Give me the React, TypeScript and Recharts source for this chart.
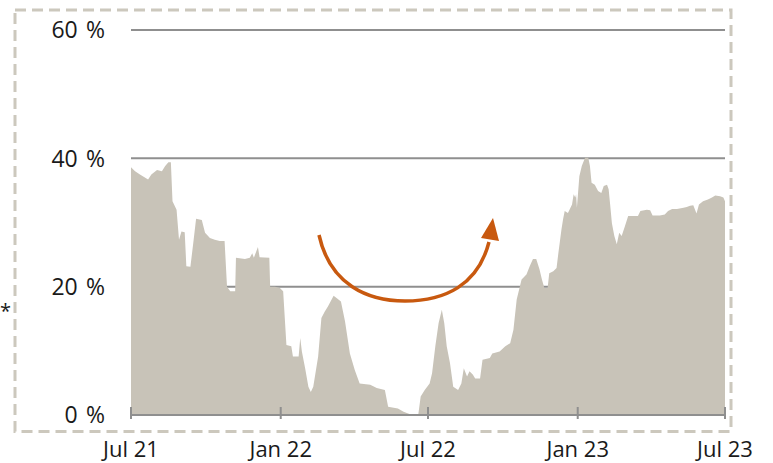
import React from "react";
import { AreaChart, Area, XAxis, YAxis, CartesianGrid } from "recharts";

// Days since 1 Jul 2021
const days = [0,5,11,21,25,32,38,42,46,49,51,56,59,62,66,68,73,77,80,87,91,97,103,109,115,118,122,128,129,140,146,149,151,156,158,170,171,177,183,187,191,197,199,206,208,210,214,218,221,224,230,234,238,242,249,253,258,263,269,275,281,294,302,312,316,328,335,343,353,356,361,367,370,374,378,382,385,388,392,396,402,406,409,413,416,420,423,429,432,441,444,453,460,466,470,474,480,486,490,494,498,502,505,508,512,514,519,523,525,529,531,533,537,542,544,546,547,548,551,554,558,562,564,566,570,574,578,581,585,587,589,591,594,597,600,603,607,611,617,623,626,634,638,641,650,656,660,665,671,679,683,687,691,695,698,703,709,714,718,724,728,730];

const shares = [38.6,38.0,37.5,36.7,37.5,38.2,38.0,38.8,39.4,39.4,33.3,32.0,27.3,28.6,28.5,23.2,23.1,27.3,30.6,30.4,28.4,27.6,27.3,27.1,27.1,20.0,19.3,19.3,24.5,24.3,24.5,25.2,24.5,26.2,24.6,24.5,20.0,20.0,19.8,19.3,10.9,10.7,9.1,9.1,12.0,9.9,7.3,4.4,3.6,4.4,9.1,15.1,16.1,16.9,18.6,18.2,17.7,14.6,9.6,7.0,4.9,4.7,4.2,3.9,1.3,1.0,0.5,0.1,0.0,2.9,3.9,4.9,6.5,10.7,14.3,16.4,14.3,10.7,8.1,4.4,3.9,4.9,7.3,6.0,6.8,6.3,5.7,5.7,8.6,8.9,9.6,9.9,10.7,11.2,13.3,18.0,21.1,21.9,23.2,24.3,24.3,22.7,21.1,19.8,19.8,22.1,22.4,22.9,25.0,28.9,30.5,31.8,31.5,32.8,34.4,33.9,34.4,32.3,37.2,38.8,40.1,40.1,38.8,36.2,35.9,34.9,34.6,35.7,35.9,35.2,32.6,29.9,27.9,26.6,28.4,27.9,29.4,31.0,31.0,31.0,31.8,32.0,31.9,31.1,31.1,31.25,31.8,32.1,32.1,32.3,32.4,32.6,32.7,31.4,32.8,33.3,33.6,33.9,34.2,34.1,33.9,33.3];

const xTicks = [0, 184, 365, 549, 730];
const xTickLabels = ["Jul 21", "Jan 22", "Jul 22", "Jan 23", "Jul 23"];
const yTicks = [0, 20, 40, 60];

const data = days.map((d, i) => ({ day: d, share: shares[i] }));

const FONT = "'Open Sans', sans-serif";
const TEXT = "#1a1a1a";
const GRID = "#8f8f8f";

const XTick = (props: any) => {
  const { x, y, payload } = props;
  const idx = xTicks.indexOf(payload.value);
  return (
    <g>
      <line x1={x} x2={x} y1={y - 8} y2={y + 4} stroke={GRID} strokeWidth={2} />
      <text x={x} y={y + 42} textAnchor="middle" fontSize={22} fontFamily={FONT} fill={TEXT}>
        {xTickLabels[idx]}
      </text>
    </g>
  );
};

const YTick = (props: any) => {
  const { x, y, payload } = props;
  return (
    <text x={x} y={y} dy="0.36em" textAnchor="end" fontSize={23} fontFamily={FONT} fill={TEXT}>
      {`${payload.value} \u200A%`}
    </text>
  );
};

export default function App() {
  return (
    <div style={{ position: "absolute", left: 0, top: 0, width: 773, height: 463, background: "#fff" }}>
      <svg width={773} height={463} style={{ position: "absolute", left: 0, top: 0 }}>
        <rect x={15} y={10} width={716} height={421.5} fill="none" stroke="#ccc8bd" strokeWidth={3} strokeDasharray="11 6" />
        <text x={0} y={318} textAnchor="start" fontSize={20} fontFamily={FONT} fill={TEXT}>*</text>
      </svg>
      <div style={{ position: "absolute", left: 0, top: 0 }}>
        <AreaChart width={773} height={463} data={data} margin={{ top: 30, right: 48, bottom: 18, left: 0 }}>
          <CartesianGrid vertical={false} stroke={GRID} strokeWidth={2} />
          <XAxis
            dataKey="day"
            type="number"
            domain={[0, 730]}
            ticks={xTicks}
            height={30}
            tickSize={0}
            tickMargin={0}
            tickLine={false}
            axisLine={{ stroke: GRID, strokeWidth: 2 }}
            tick={<XTick />}
            interval={0}
          />
          <YAxis
            type="number"
            domain={[0, 60]}
            ticks={yTicks}
            width={131}
            tickSize={0}
            tickMargin={26}
            axisLine={false}
            tickLine={false}
            tick={<YTick />}
            interval={0}
          />
          <Area
            type="linear"
            dataKey="share"
            stroke="none"
            fill="#c8c3b8"
            fillOpacity={1}
            isAnimationActive={false}
          />
        </AreaChart>
      </div>
      <svg width={773} height={463} style={{ position: "absolute", left: 0, top: 0, pointerEvents: "none" }}>
        <path
          d="M319,235 C330,285 368,301 405,301 C445,301 478,285 489,242"
          fill="none"
          stroke="#c8590f"
          strokeWidth={3.5}
        />
        <polygon points="493,218 481,238 499,241" fill="#c8590f" />
      </svg>
    </div>
  );
}
